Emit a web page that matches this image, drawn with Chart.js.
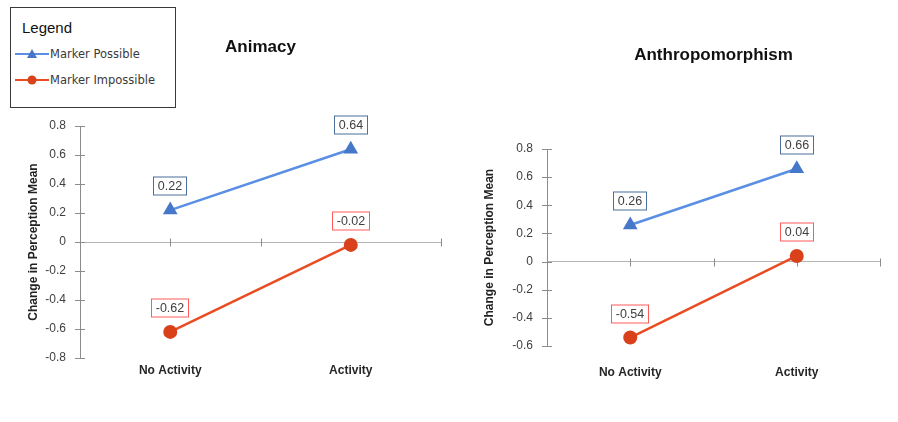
<!DOCTYPE html>
<html>
<head>
<meta charset="utf-8">
<script src="https://cdn.jsdelivr.net/npm/chart.js@4.4.1/dist/chart.umd.min.js"></script>
<style>
  html, body { margin: 0; padding: 0; background: #fff; }
  #wrap { position: relative; width: 898px; height: 422px; overflow: hidden; font-family: "Liberation Sans", Arial, sans-serif; }
  canvas { position: absolute; top: 0; }
  #c1 { left: 0; }
  #c2 { left: 450px; }
  #legend {
    position: absolute; left: 10px; top: 7px; width: 164px; height: 99px;
    border: 1px solid #3a3a3a; background: #fff; z-index: 2;
  }
  #legend .head { position: absolute; left: 11px; top: 11px; font-size: 15px; color: #111; }
  #legend .item { position: absolute; left: 4px; height: 14px; display: flex; align-items: center;
    font-family: "DejaVu Sans", sans-serif; font-size: 11.5px; color: #3a3a3a; }
  #legend svg { margin-right: 1px; }
</style>
</head>
<body>
<div id="wrap">
  <canvas id="c1" width="450" height="422"></canvas>
  <canvas id="c2" width="448" height="422"></canvas>
  <div id="legend"></div>
</div>
<script>
// categories + series
const categories = ["No Activity", "Activity"];
const seriesNames = ["Marker Possible", "Marker Impossible"];

const animacyPossible = [0.22, 0.64];
const animacyImpossible = [-0.62, -0.02];
const anthroPossible = [0.26, 0.66];
const anthroImpossible = [-0.54, 0.04];

const BLUE_LINE = "#5a8fe4";
const BLUE_MARK = "#4677c8";
const BLUE_BOX = "#4a6f98";
const RED_LINE = "#ea4c22";
const RED_MARK = "#d9411b";
const RED_BOX = "#ff5a5a";

Chart.defaults.font.family = '"Liberation Sans", Arial, sans-serif';
Chart.defaults.color = "#404040";

// cross tick marks on y axis and on the zero line
const crossTicks = {
  id: "crossTicks",
  beforeDatasetsDraw(chart) {
    const { ctx, chartArea, scales } = chart;
    const x = scales.x, y = scales.y;
    ctx.save();
    ctx.strokeStyle = "#8c8c8c";
    ctx.lineWidth = 1;
    const line = (x1, y1, x2, y2) => {
      ctx.beginPath(); ctx.moveTo(x1, y1); ctx.lineTo(x2, y2); ctx.stroke();
    };
    y.ticks.forEach((t, i) => {
      const py = Math.round(y.getPixelForTick(i)) + 0.5;
      line(chartArea.left - 5, py, chartArea.left + 5, py);
    });
    const y0 = Math.round(y.getPixelForValue(0)) + 0.5;
    const half = (chartArea.right - chartArea.left) / categories.length / 2;
    categories.forEach((c, i) => {
      const cx = x.getPixelForValue(i);
      line(Math.round(cx) + 0.5, y0 - 4, Math.round(cx) + 0.5, y0 + 4);
      line(Math.round(cx + half) + 0.5, y0 - 4, Math.round(cx + half) + 0.5, y0 + 4);
    });
    ctx.restore();
  },
};

// boxed value labels above each point
const boxLabels = {
  id: "boxLabels",
  afterDatasetsDraw(chart) {
    const { ctx } = chart;
    ctx.save();
    ctx.font = '12.5px "Liberation Sans", Arial, sans-serif';
    ctx.textAlign = "center";
    ctx.textBaseline = "middle";
    chart.data.datasets.forEach((ds, di) => {
      const meta = chart.getDatasetMeta(di);
      meta.data.forEach((pt, i) => {
        const txt = ds.data[i].toFixed(2);
        const w = Math.round(ctx.measureText(txt).width) + 10;
        const h = 19;
        const cx = Math.round(pt.x), cy = Math.round(pt.y - 24);
        ctx.fillStyle = "#fff";
        ctx.fillRect(cx - w / 2, cy - h / 2, w, h);
        ctx.strokeStyle = ds.boxColor;
        ctx.lineWidth = 1;
        ctx.strokeRect(cx - w / 2 + 0.5, cy - h / 2 + 0.5, w - 1, h - 1);
        ctx.fillStyle = "#404040";
        ctx.fillText(txt, cx, cy + 1);
      });
    });
    ctx.restore();
  },
};

function makeChart(id, title, possible, impossible, yMin, yMax, g) {
  return new Chart(document.getElementById(id), {
    type: "line",
    data: {
      labels: categories,
      datasets: [
        {
          label: seriesNames[0],
          data: possible,
          borderColor: BLUE_LINE,
          borderWidth: 2.5,
          pointStyle: "triangle",
          pointRadius: 8.5,
          pointBackgroundColor: BLUE_MARK,
          pointBorderWidth: 0,
          boxColor: BLUE_BOX,
        },
        {
          label: seriesNames[1],
          data: impossible,
          borderColor: RED_LINE,
          borderWidth: 2.5,
          pointStyle: "circle",
          pointRadius: 7,
          pointBackgroundColor: RED_MARK,
          pointBorderWidth: 0,
          boxColor: RED_BOX,
        },
      ],
    },
    options: {
      responsive: false,
      animation: false,
      layout: { padding: g.padding },
      plugins: {
        legend: { display: false },
        tooltip: { enabled: false },
        title: {
          display: true,
          text: title,
          fullSize: false,
          color: "#111",
          font: { size: 17, weight: "bold" },
          padding: { top: 0, bottom: g.titleGap },
        },
      },
      scales: {
        x: {
          type: "category",
          offset: true,
          grid: { display: false, drawTicks: false },
          border: { display: false },
          ticks: { color: "#262626", font: { size: 12, weight: "bold" }, padding: g.xPad, maxRotation: 0 },
          afterFit: (s) => { s.height = 44; },
        },
        y: {
          min: yMin,
          max: yMax,
          grid: {
            drawTicks: false,
            color: (c) => (c.tick && Math.abs(c.tick.value) < 1e-9 ? "#b4b4b4" : "rgba(0,0,0,0)"),
          },
          border: { display: true, color: "#8c8c8c" },
          ticks: {
            stepSize: 0.2,
            padding: 14,
            color: "#404040",
            font: { size: 12 },
            callback: (v) => String(Number(v.toFixed(1))),
          },
          title: {
            display: true,
            text: "Change in Perception Mean",
            color: "#222",
            font: { size: 12, weight: "bold" },
            padding: { top: 4, bottom: 4 },
          },
          afterFit: (s) => { s.width = g.yWidth; },
        },
      },
    },
    plugins: [crossTicks, boxLabels],
  });
}

makeChart("c1", "Animacy", animacyPossible, animacyImpossible, -0.8, 0.8, {
  padding: { left: 22, right: 9, top: 37, bottom: 20 },
  titleGap: 68.6,
  yWidth: 58,
  xPad: 5,
});

makeChart("c2", "Anthropomorphism", anthroPossible, anthroImpossible, -0.6, 0.8, {
  padding: { left: 28, right: 18, top: 45, bottom: 32 },
  titleGap: 83.6,
  yWidth: 69,
  xPad: 19,
});

// legend box
const legendEl = document.getElementById("legend");
legendEl.innerHTML =
  '<div class="head">Legend</div>' +
  '<div class="item" style="top:39px">' +
  '<svg width="34" height="12"><line x1="0" y1="6" x2="34" y2="6" stroke="' + BLUE_LINE + '" stroke-width="2"/>' +
  '<polygon points="17,1 22,10 12,10" fill="' + BLUE_MARK + '"/></svg>' + seriesNames[0] + "</div>" +
  '<div class="item" style="top:65px">' +
  '<svg width="34" height="12"><line x1="0" y1="6" x2="34" y2="6" stroke="' + RED_LINE + '" stroke-width="2"/>' +
  '<circle cx="17" cy="6" r="4.5" fill="' + RED_MARK + '"/></svg>' + seriesNames[1] + "</div>";
</script>
</body>
</html>
